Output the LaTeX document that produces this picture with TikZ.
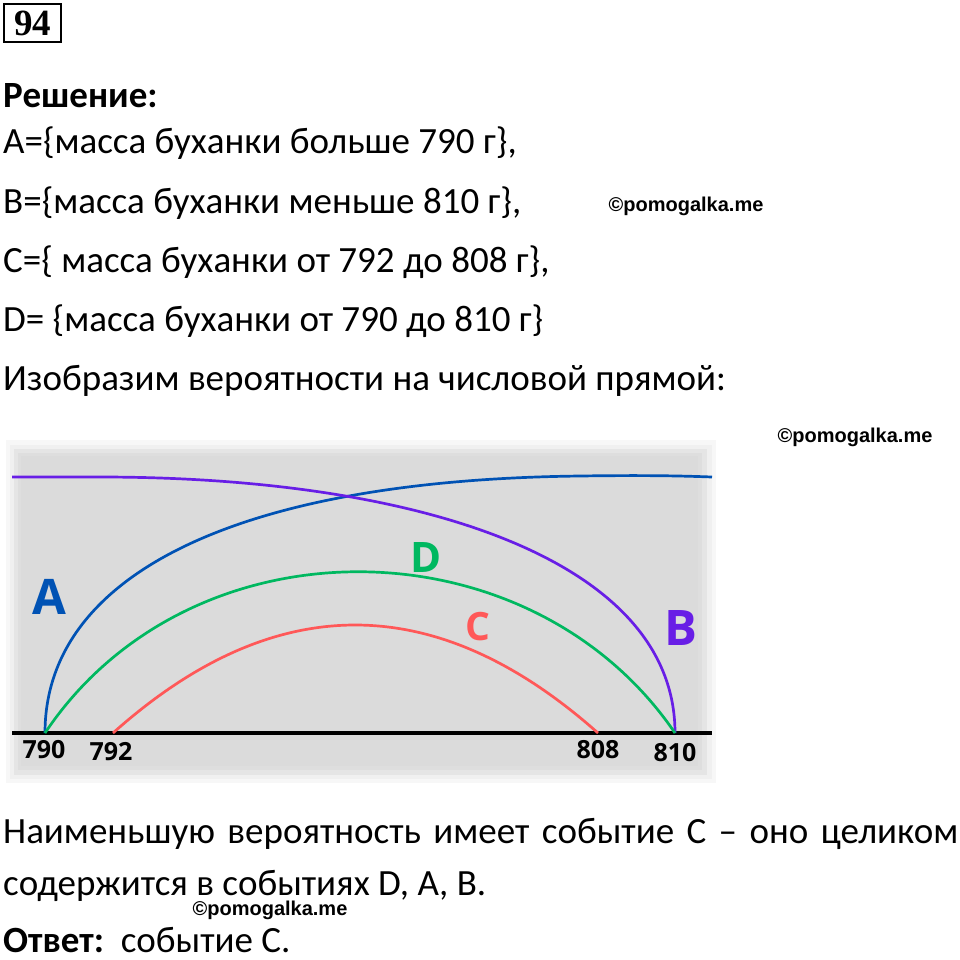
\documentclass[tikz,border=0pt]{standalone}
\usepackage{fontspec}
\setmainfont{Carlito}
\newfontfamily\markfont{Liberation Sans}
\newfontfamily\labfont{Open Sans}
\newfontfamily\taskfont{Liberation Serif}
\definecolor{setA}{RGB}{0,82,180}
\definecolor{setB}{RGB}{104,30,230}
\definecolor{setC}{RGB}{255,88,88}
\definecolor{setD}{RGB}{0,184,96}
\definecolor{panel}{RGB}{219,219,219}
\tikzset{%
    txt/.style={anchor=base west,inner sep=0pt,font=\fontsize{37}{44}\selectfont},
    wmark/.style={inner sep=0pt,font=\markfont\bfseries\fontsize{20}{22}\selectfont},
    curve/.style={line width=2.7pt},
    lbl/.style={inner sep=0pt,font=\labfont\bfseries\fontsize{49}{50}\selectfont},
    tick/.style={inner sep=0pt,font=\labfont\bfseries\fontsize{25}{26}\selectfont}
}

\begin{document}
\begin{tikzpicture}[x=1pt,y=-1pt]
        \useasboundingbox (0,0) rectangle (960,959);

        \node[draw,line width=2pt,minimum width=57pt,minimum height=38pt,inner sep=0pt,
              font=\taskfont\bfseries\fontsize{37}{40}\selectfont] (task) at (32.5,23) {94};

        \node[txt,font=\bfseries\fontsize{37}{44}\selectfont] (sol) at (3,107) {Решение:};
        \node[txt] (evA) at (3,153) {А=\{масса буханки больше 790 г\},};
        \node[txt] (evB) at (3,213) {В=\{масса буханки меньше 810 г\},};
        \node[txt] (evC) at (3,272) {С=\{ масса буханки от 792 до 808 г\},};
        \node[txt] (evD) at (3,331) {D= \{масса буханки от 790 до 810 г\}};
        \node[txt] (intro) at (3,390) {Изобразим вероятности на числовой прямой:};

        \node[wmark] (wm1) at (686,206) {©pomogalka.me};
        \node[wmark] (wm2) at (855,437) {©pomogalka.me};

        % grey panel with soft edges
        \fill[black!3] (6,440) rectangle (716,783);
        \fill[black!6] (10,445) rectangle (712,779);
        \fill[black!10] (14,449) rectangle (707,775);
        \fill[black!13] (18,453) rectangle (702,770);
        \fill[panel] (21,456) rectangle (698,766);

        \coordinate (p790) at (45,733);
        \coordinate (p792) at (113,733);
        \coordinate (p808) at (598,733);
        \coordinate (p810) at (675,733);
        \coordinate (axL) at (12,733);
        \coordinate (axR) at (712,733);
        \coordinate (aEnd) at (712,477);
        \coordinate (bStart) at (12,477);

        \draw[line width=3.5pt] (axL) -- (axR);

        \draw[curve,setA] (p790) .. controls (45,578) and (230,480) .. (580,476)
            .. controls (650,475) and (685,476) .. (aEnd);
        \draw[curve,setB] (bStart) -- (100,477) .. controls (420,477) and (675,560) .. (p810);
        \draw[curve,setD] (p790) .. controls (190,516) and (530,520) .. (p810);
        \draw[curve,setC] (p792) .. controls (274,589) and (436,589) .. (p808);

        \node[lbl,setA] (labA) at (49,597) {A};
        \node[lbl,setD,font=\labfont\bfseries\fontsize{42}{44}\selectfont] (labD) at (426,557) {D};
        \node[lbl,setC,font=\labfont\bfseries\fontsize{39}{40}\selectfont] (labC) at (478,627) {C};
        \node[lbl,setB] (labB) at (681,628) {B};

        \node[tick] (t790) at (44,750) {790};
        \node[tick] (t792) at (111,752) {792};
        \node[tick] (t808) at (598,750) {808};
        \node[tick] (t810) at (675,753) {810};

        \node[txt] (concl) at (3,843) {\makebox[955pt][s]{Наименьшую вероятность имеет событие С – оно целиком}};
        \node[txt] (concl2) at (3,895) {содержится в событиях D, А, В.};
        \node[wmark] (wm3) at (270,910) {©pomogalka.me};
        \node[txt] (ans) at (3,952) {\textbf{Ответ:}\ \ событие С.};
    \end{tikzpicture}
\end{document}
